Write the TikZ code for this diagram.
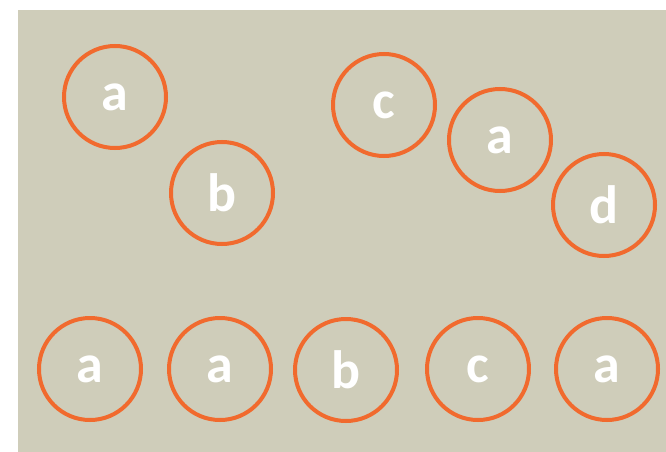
\documentclass[tikz,border=0pt]{standalone}
\usepackage{fontspec}
\setmainfont{Carlito}
\definecolor{bgc}{RGB}{207,205,186}
\definecolor{ring}{RGB}{241,106,46}
\begin{document}
\begin{tikzpicture}[x=1pt,y=-1pt,
  letter/.style={circle,draw=ring,line width=4pt,minimum size=102pt,inner sep=0pt,
    text=white,font=\fontsize{54}{54}\selectfont\bfseries}]
\useasboundingbox (0,0) rectangle (666,452);
\fill[white] (0,0) rectangle (666,452);
\fill[bgc] (18,10) rectangle (666,452);
\node[letter] (t1) at (115,97) {a};
\node[letter] (t2) at (222,193) {b};
\node[letter] (t3) at (384,105) {c};
\node[letter] (t4) at (500,140) {a};
\node[letter] (t5) at (604,205) {d};
\node[letter] (b1) at (90,369) {a};
\node[letter] (b2) at (220,369) {a};
\node[letter] (b3) at (346,370) {b};
\node[letter] (b4) at (478,369) {c};
\node[letter] (b5) at (607,369) {a};
\end{tikzpicture}
\end{document}
